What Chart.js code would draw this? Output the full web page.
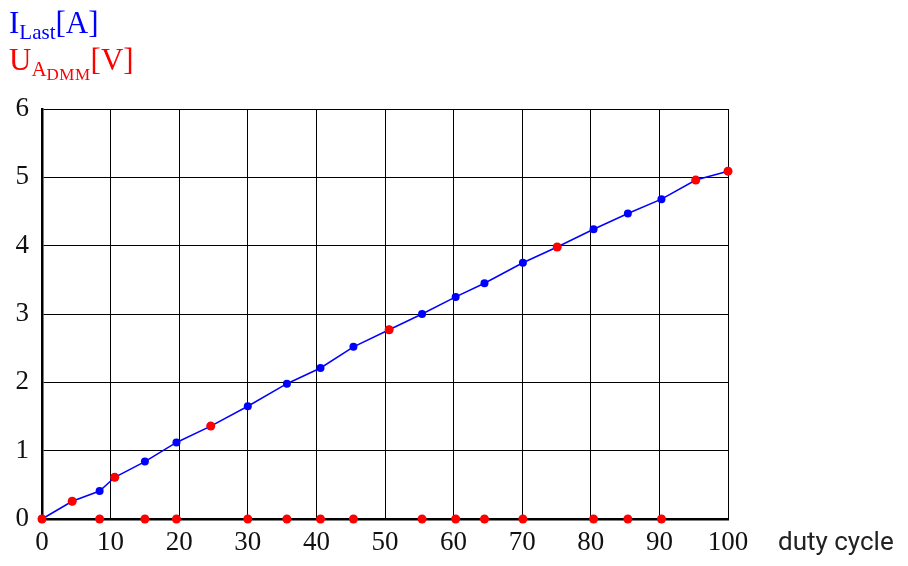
<!DOCTYPE html>
<html>
<head>
<meta charset="utf-8">
<script src="https://cdn.jsdelivr.net/npm/chart.js@4/dist/chart.umd.min.js"></script>
<style>
  body { margin: 0; background: #fff; }
  #wrap { position: relative; width: 908px; height: 566px; }
  .lbl { position: absolute; font-family: "Liberation Serif", serif; font-size: 31px; line-height: 1; white-space: nowrap; }
  .lbl sub { font-size: 21px; vertical-align: -6px; }
  .lbl sub sub { font-size: 17px; vertical-align: -4px; letter-spacing: 0.5px; }
  #xtitle { position: absolute; left: 778px; top: 526px; font-family: Roboto, sans-serif; font-size: 26px; color: #222; }
</style>
</head>
<body>
<div id="wrap">
  <canvas id="chart" width="908" height="566"></canvas>
  <div class="lbl" style="left:9px; top:7px; color:#0000ff;">I<sub>Last</sub>[A]</div>
  <div class="lbl" style="left:9px; top:44px; color:#ff0000;">U<sub>A<sub>DMM</sub></sub>[V]</div>
  <div id="xtitle">duty cycle</div>
</div>
<script>
const ctx = document.getElementById("chart");

// duty cycle values
const dutyCycle = [0, 4.4, 8.4, 10.6, 15.0, 19.6, 24.6, 30.0, 35.7, 40.6, 45.4,
  50.6, 55.4, 60.3, 64.5, 70.1, 75.1, 80.4, 85.4, 90.3, 95.3, 100];
// I_Last [A]
const currentLast = [0, 0.26, 0.41, 0.61, 0.84, 1.12, 1.36, 1.65, 1.98, 2.21, 2.52,
  2.77, 3.0, 3.25, 3.45, 3.75, 3.98, 4.24, 4.47, 4.68, 4.96, 5.09];
// U_A_DMM [V]
const voltageDmm = [0, 0.26, 0, 0.61, 0, 0, 1.36, 0, 0, 0, 0,
  2.77, 0, 0, 0, 0, 3.98, 0, 0, 0, 4.96, 5.09];

const xTicks = [0, 10, 20, 30, 40, 50, 60, 70, 80, 90, 100];
const yTicks = [0, 1, 2, 3, 4, 5, 6];

const toPoints = (ys) => dutyCycle.map((x, i) => ({ x: x, y: ys[i] }));

new Chart(ctx, {
  type: "scatter",
  data: {
    datasets: [
      {
        label: "U",
        data: toPoints(voltageDmm),
        showLine: false,
        pointRadius: 4.5,
        pointBorderWidth: 0,
        pointBackgroundColor: "#ff0000",
        backgroundColor: "#ff0000",
        clip: false,
      },
      {
        label: "I",
        data: toPoints(currentLast),
        showLine: true,
        borderColor: "#0000ff",
        borderWidth: 1.5,
        pointRadius: 4,
        pointBorderWidth: 0,
        pointBackgroundColor: "#0000ff",
        backgroundColor: "#0000ff",
        clip: false,
      },
    ],
  },
  options: {
    responsive: false,
    animation: false,
    layout: { padding: { left: 0, top: 109, right: 180, bottom: 0 } },
    plugins: { legend: { display: false }, tooltip: { enabled: false } },
    scales: {
      x: {
        type: "linear",
        min: 0,
        max: 100,
        afterBuildTicks: (scale) => { scale.ticks = xTicks.map((v) => ({ value: v })); },
        afterFit: (scale) => { scale.height = 47; },
        grid: { color: "#000", lineWidth: 1, drawTicks: false },
        border: { color: "#000", width: 2.5 },
        ticks: { padding: 8, color: "#111", font: { family: "Liberation Serif", size: 27 }, maxRotation: 0 },
      },
      y: {
        min: 0,
        max: 6,
        afterBuildTicks: (scale) => { scale.ticks = yTicks.map((v) => ({ value: v })); },
        afterFit: (scale) => { scale.width = 42; },
        grid: { color: "#000", lineWidth: 1, drawTicks: false },
        border: { color: "#000", width: 2.5 },
        ticks: { padding: 13, color: "#111", font: { family: "Liberation Serif", size: 27 } },
      },
    },
  },
});
</script>
</body>
</html>
